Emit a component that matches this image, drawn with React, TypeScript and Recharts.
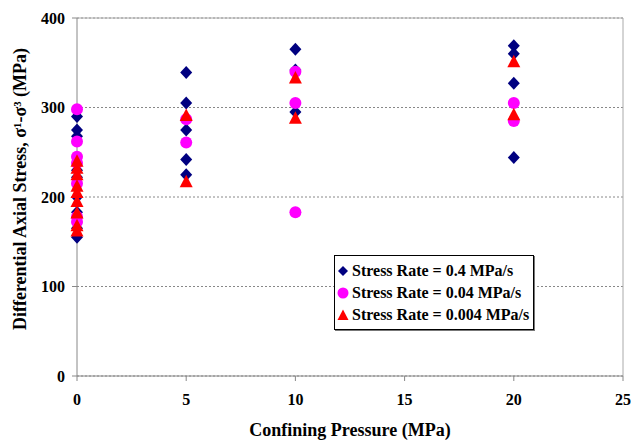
import {
  ScatterChart,
  Scatter,
  XAxis,
  YAxis,
  CartesianGrid,
  ReferenceLine,
  Legend,
} from 'recharts';

const xTicks = [0, 5, 10, 15, 20, 25];
const yTicks = [0, 100, 200, 300, 400];

// Stress rate = 0.4 MPa/s
const rateHigh = [
  { x: 0, y: 290 }, { x: 0, y: 275 }, { x: 0, y: 268 }, { x: 0, y: 230 },
  { x: 0, y: 222 }, { x: 0, y: 200 }, { x: 0, y: 183 }, { x: 0, y: 165 },
  { x: 0, y: 155 },
  { x: 5, y: 339 }, { x: 5, y: 305 }, { x: 5, y: 275 }, { x: 5, y: 242 },
  { x: 5, y: 225 },
  { x: 10, y: 365 }, { x: 10, y: 342 }, { x: 10, y: 295 },
  { x: 20, y: 369 }, { x: 20, y: 360 }, { x: 20, y: 327 }, { x: 20, y: 244 },
];

// Stress rate = 0.04 MPa/s
const rateMid = [
  { x: 0, y: 298 }, { x: 0, y: 262 }, { x: 0, y: 245 }, { x: 0, y: 238 },
  { x: 0, y: 215 }, { x: 0, y: 178 }, { x: 0, y: 172 },
  { x: 5, y: 287 }, { x: 5, y: 261 },
  { x: 10, y: 340 }, { x: 10, y: 305 }, { x: 10, y: 183 },
  { x: 20, y: 305 }, { x: 20, y: 285 },
];

// Stress rate = 0.004 MPa/s
const rateLow = [
  { x: 0, y: 240 }, { x: 0, y: 232 }, { x: 0, y: 225 }, { x: 0, y: 212 },
  { x: 0, y: 205 }, { x: 0, y: 195 }, { x: 0, y: 182 }, { x: 0, y: 168 },
  { x: 0, y: 162 },
  { x: 5, y: 291 }, { x: 5, y: 217 },
  { x: 10, y: 333 }, { x: 10, y: 288 },
  { x: 20, y: 351 }, { x: 20, y: 292 },
];

const seriesNames = [
  'Stress Rate = 0.4 MPa/s',
  'Stress Rate = 0.04 MPa/s',
  'Stress Rate = 0.004 MPa/s',
];

const FONT = '"Liberation Serif", "Times New Roman", serif';
const NAVY = '#000080';
const MAGENTA = '#ff00ff';
const RED = '#ff0000';

const tickStyle = { fontSize: 16, fontWeight: 700, fill: '#000', fontFamily: FONT };

// marker shapes, placed at the cx/cy the scatter gives us
const Diamond = ({ cx, cy }: any) => (
  <path d={`M${cx},${cy - 6.5}L${cx + 6},${cy}L${cx},${cy + 6.5}L${cx - 6},${cy}Z`} fill={NAVY} />
);
const Dot = ({ cx, cy }: any) => <circle cx={cx} cy={cy} r={6} fill={MAGENTA} />;
const Triangle = ({ cx, cy }: any) => (
  <path d={`M${cx},${cy - 7}L${cx + 6.5},${cy + 5.5}L${cx - 6.5},${cy + 5.5}Z`} fill={RED} />
);

function LegendBox() {
  const icons = [
    <path key="d" d="M6 1 L11 6 L6 11 L1 6 Z" fill={NAVY} />,
    <circle key="c" cx={6} cy={6} r={5.5} fill={MAGENTA} />,
    <path key="t" d="M6 0.5 L11.5 11 L0.5 11 Z" fill={RED} />,
  ];
  return (
    <div
      style={{
        border: '1px solid #000',
        background: '#fff',
        padding: '4px 4px 3px 2px',
        fontFamily: FONT,
        fontWeight: 700,
        fontSize: 16,
        lineHeight: '16px',
        boxShadow: '1px 1px 0 #777',
      }}
    >
      {seriesNames.map((name, i) => (
        <div key={name} style={{ display: 'flex', alignItems: 'center', height: 22 }}>
          <svg width={12} height={12} style={{ marginRight: 3 }}>
            {icons[i]}
          </svg>
          <span style={{ whiteSpace: 'nowrap' }}>{name}</span>
        </div>
      ))}
    </div>
  );
}

const YLabel = ({ viewBox }: any) => {
  const x = viewBox.x + 20;
  const y = viewBox.y + viewBox.height / 2 - 8;
  return (
    <text
      x={x}
      y={y}
      transform={`rotate(-90 ${x} ${y})`}
      textAnchor="middle"
      dominantBaseline="central"
      style={{ fontSize: 18, fontWeight: 700, fill: '#000', fontFamily: FONT }}
    >
      Differential Axial Stress, σ¹-σ³ (MPa)
    </text>
  );
};

export default function App() {
  return (
    <div style={{ position: 'absolute', left: 0, top: 0, width: 631, height: 440, background: '#fff' }}>
      <ScatterChart width={631} height={440} margin={{ top: 18, right: 8, left: 0, bottom: 0 }}>
        <CartesianGrid horizontal vertical={false} stroke="#888" strokeDasharray="2 2" />
        <XAxis
          type="number"
          dataKey="x"
          domain={[0, 25]}
          ticks={xTicks}
          height={64}
          axisLine={{ stroke: '#888' }}
          tickLine={{ stroke: '#888' }}
          tickSize={5}
          tickMargin={13}
          tick={tickStyle}
          label={{
            value: 'Confining Pressure (MPa)',
            position: 'insideBottom',
            offset: 4,
            style: { fontSize: 18, fontWeight: 700, fill: '#000', fontFamily: FONT },
          }}
        />
        <YAxis
          type="number"
          dataKey="y"
          domain={[0, 400]}
          ticks={yTicks}
          width={77}
          axisLine={{ stroke: '#888' }}
          tickLine={{ stroke: '#888' }}
          tickSize={5}
          tickMargin={7}
          tick={tickStyle}
          label={<YLabel />}
        />
        <ReferenceLine y={400} stroke="#aaa" />
        <ReferenceLine x={25} stroke="#aaa" />
        <Legend
          content={() => <LegendBox />}
          layout="vertical"
          align="center"
          verticalAlign="middle"
          wrapperStyle={{ left: 334, top: 255, width: 'auto' }}
        />
        <Scatter name={seriesNames[0]} data={rateHigh} fill={NAVY} shape={<Diamond />} isAnimationActive={false} />
        <Scatter name={seriesNames[1]} data={rateMid} fill={MAGENTA} shape={<Dot />} isAnimationActive={false} />
        <Scatter name={seriesNames[2]} data={rateLow} fill={RED} shape={<Triangle />} isAnimationActive={false} />
      </ScatterChart>
    </div>
  );
}
